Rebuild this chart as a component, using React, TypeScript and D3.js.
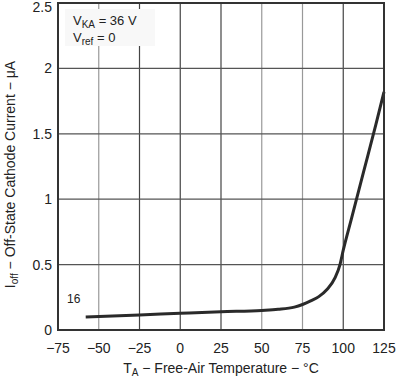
import React from "react";
import * as d3 from "d3";

const temps = [-58, -25, 0, 25, 50, 60, 70, 75, 80, 85, 90, 95, 98, 100, 105, 110, 115, 120, 125];
const currents = [0.1, 0.115, 0.128, 0.14, 0.15, 0.158, 0.175, 0.195, 0.222, 0.255, 0.31, 0.4, 0.5, 0.61, 0.85, 1.09, 1.33, 1.57, 1.82];
const xTicks = [-75, -50, -25, 0, 25, 50, 75, 100, 125];
const yTicks = [0, 0.5, 1, 1.5, 2, 2.5];
const yTickLabels = ["0", "0.5", "1", "1.5", "2", "2.5"];
const darkX = [-25, 0, 25, 100];

const W = 397, H = 378;
const L = 58, R = 384, T = 3, B = 330;
const font = "'Liberation Sans', Arial, sans-serif";

export default function App() {
  const x = d3.scaleLinear().domain([-75, 125]).range([L, R]);
  const y = d3.scaleLinear().domain([0, 2.5]).range([B, T]);
  const line = d3.line<number>().x((_, i) => x(temps[i])).y((d) => y(d)).curve(d3.curveMonotoneX);
  return (
    <svg width={W} height={H} style={{ position: "absolute", left: 0, top: 0 }} fontFamily={font}>
      <rect x={0} y={0} width={W} height={H} fill="#fff" />
      {xTicks.slice(1, -1).map((t) => (
        <line key={"vx" + t} x1={x(t)} x2={x(t)} y1={T} y2={B} stroke={darkX.includes(t) ? "#444" : "#999"} strokeWidth={1.2} />
      ))}
      {yTicks.slice(1, -1).map((t) => (
        <line key={"hy" + t} x1={L} x2={R} y1={y(t)} y2={y(t)} stroke="#555" strokeWidth={1.2} />
      ))}
      <rect x={65} y={9} width={90} height={37} fill="#f8f8f8" />
      <text x={73} y={25} fontSize={13} fill="#222">
        V<tspan fontSize={10} dy={3}>KA</tspan><tspan dy={-3}> = 36 V</tspan>
      </text>
      <text x={73} y={42} fontSize={13} fill="#222">
        V<tspan fontSize={10} dy={3}>ref</tspan><tspan dy={-3}> = 0</tspan>
      </text>
      <text x={67} y={303} fontSize={12} fill="#222">16</text>
      <path d={line(currents) || ""} fill="none" stroke="#2a2a2a" strokeWidth={3} />
      <rect x={L} y={T} width={R - L} height={B - T} fill="none" stroke="#333" strokeWidth={2} />
      {yTicks.map((t, i) => (
        <text key={"yl" + t} x={52} y={Math.max(y(t) + 5, 12)} fontSize={14} textAnchor="end" fill="#222">{yTickLabels[i]}</text>
      ))}
      {xTicks.map((t) => (
        <text key={"xl" + t} x={x(t)} y={353} fontSize={14} textAnchor="middle" fill="#222">{t < 0 ? "\u2212" + Math.abs(t) : String(t)}</text>
      ))}
      <text x={221} y={373} fontSize={14} textAnchor="middle" fill="#222">
        T<tspan fontSize={10} dy={3}>A</tspan><tspan dy={-3}> − Free-Air Temperature −  °C</tspan>
      </text>
      <text transform={`translate(15, ${(T + B) / 2 + 8}) rotate(-90)`} fontSize={14} textAnchor="middle" fill="#222">
        I<tspan fontSize={10} dy={3}>off</tspan><tspan dy={-3}>  − Off-State Cathode Current − μA</tspan>
      </text>
    </svg>
  );
}
